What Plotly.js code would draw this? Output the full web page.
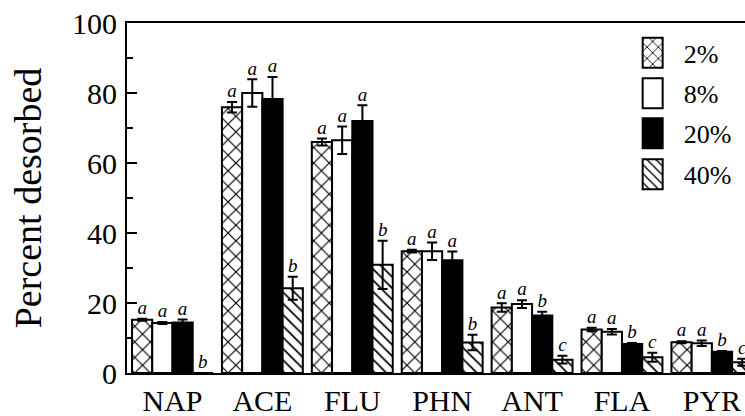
<!DOCTYPE html>
<html>
<head>
<meta charset="utf-8">
<script src="https://cdn.plot.ly/plotly-3.0.1.min.js"></script>
<style>
html,body{margin:0;padding:0;overflow:hidden;background:#fff;width:745px;height:416px;}
#chart{width:790px;height:416px;}
</style>
</head>
<body>
<div id="chart"></div>
<script>
// ---- data ----
const categories = ['NAP', 'ACE', 'FLU', 'PHN', 'ANT', 'FLA', 'PYR'];
const seriesNames = ['2%', '8%', '20%', '40%'];

const vals2  = [15.2, 75.9, 66.0, 34.8, 18.7, 12.4, 8.8];
const err2   = [0.3, 1.5, 1.0, 0.4, 1.2, 0.5, 0.3];
const vals8  = [14.3, 80.0, 66.5, 34.8, 19.7, 11.8, 8.5];
const err8   = [0.3, 3.9, 3.9, 2.5, 1.1, 0.8, 0.8];
const vals20 = [14.4, 78.3, 72.0, 32.2, 16.4, 8.3, 6.1];
const err20  = [0.9, 6.3, 4.5, 2.5, 1.1, 0.3, 0.2];
const vals40 = [0, 24.2, 30.9, 8.7, 3.8, 4.5, 3.1];
const err40  = [0, 3.3, 6.9, 2.2, 1.1, 1.3, 1.0];

const letters2  = ['a', 'a', 'a', 'a', 'a', 'a', 'a'];
const letters8  = ['a', 'a', 'a', 'a', 'a', 'a', 'a'];
const letters20 = ['a', 'a', 'a', 'a', 'b', 'b', 'b'];
const letters40 = ['b', 'b', 'b', 'b', 'c', 'c', 'c'];

const yTickVals = [0, 20, 40, 60, 80, 100];

// ---- styles ----
const serif = "'Liberation Serif'";
const styles = [
  {color: '#ffffff', pattern: {shape: 'x', fgcolor: '#000', bgcolor: '#fff', size: 11, solidity: 0.2}},
  {color: '#ffffff', pattern: {shape: ''}},
  {color: '#000000', pattern: {shape: ''}},
  {color: '#ffffff', pattern: {shape: '\\', fgcolor: '#000', bgcolor: '#fff', size: 8, solidity: 0.22}}
];
const legendIds = ['legend', 'legend2', 'legend3', 'legend4'];
const legendY = [0.9146, 0.7989, 0.6846, 0.5674];
const allVals = [vals2, vals8, vals20, vals40];
const allErr = [err2, err8, err20, err40];
const allLetters = [letters2, letters8, letters20, letters40];

const traces = [];
seriesNames.forEach((name, i) => {
  traces.push({
    type: 'bar', name: name, x: categories, y: allVals[i],
    offsetgroup: 'g' + i, alignmentgroup: 'a', legend: legendIds[i],
    marker: {color: styles[i].color, pattern: styles[i].pattern, line: {color: '#000', width: 2}},
    error_y: {type: 'data', array: allErr[i], visible: true, color: '#000', thickness: 2, width: 5},
    hoverinfo: 'skip'
  });
});
seriesNames.forEach((name, i) => {
  traces.push({
    type: 'scatter', mode: 'text', showlegend: false,
    x: categories, y: allVals[i].map((v, k) => v + allErr[i][k]),
    text: allLetters[i], textposition: 'top center',
    offsetgroup: 'g' + i, alignmentgroup: 'a',
    textfont: {family: serif, size: 19, style: 'italic', color: '#000'},
    cliponaxis: false, hoverinfo: 'skip'
  });
});

const layout = {
  width: 790, height: 416,
  margin: {l: 127, r: 40, t: 23, b: 43},
  paper_bgcolor: '#fff', plot_bgcolor: '#fff',
  barmode: 'group', scattermode: 'group', bargap: 0.1, bargroupgap: 0, scattergap: 0.1,
  showlegend: true,
  font: {family: serif, color: '#000'},
  xaxis: {
    type: 'category', range: [-0.506, 6.424],
    showline: true, linecolor: '#000', linewidth: 2, mirror: true,
    ticks: '', showgrid: false, zeroline: false,
    tickfont: {family: serif, size: 30, color: '#000'}
  },
  yaxis: {
    range: [0, 100], tickvals: yTickVals,
    showline: true, linecolor: '#000', linewidth: 2, mirror: true,
    ticks: 'inside', ticklen: 10, tickwidth: 2, tickcolor: '#000',
    minor: {dtick: 10, ticks: 'inside', ticklen: 6, tickwidth: 2, tickcolor: '#000', showgrid: false},
    showgrid: false, zeroline: false,
    ticklabelstandoff: 2,
    tickfont: {family: serif, size: 30, color: '#000'},
    title: {text: 'Percent desorbed', font: {family: serif, size: 38, color: '#000'}, standoff: 19}
  }
};
legendIds.forEach((id, i) => {
  layout[id] = {
    x: 0.794, xanchor: 'left', y: legendY[i], yanchor: 'middle',
    font: {family: serif, size: 26, color: '#000'},
    itemwidth: 52, bgcolor: 'rgba(0,0,0,0)', borderwidth: 0
  };
});

Plotly.newPlot('chart', traces, layout, {staticPlot: true, displayModeBar: false}).then(() => {
  document.querySelectorAll('#chart .legendpoints path').forEach(p => {
    p.setAttribute('d', 'M10,15H-10V-15H10Z');
  });
});
</script>
</body>
</html>
